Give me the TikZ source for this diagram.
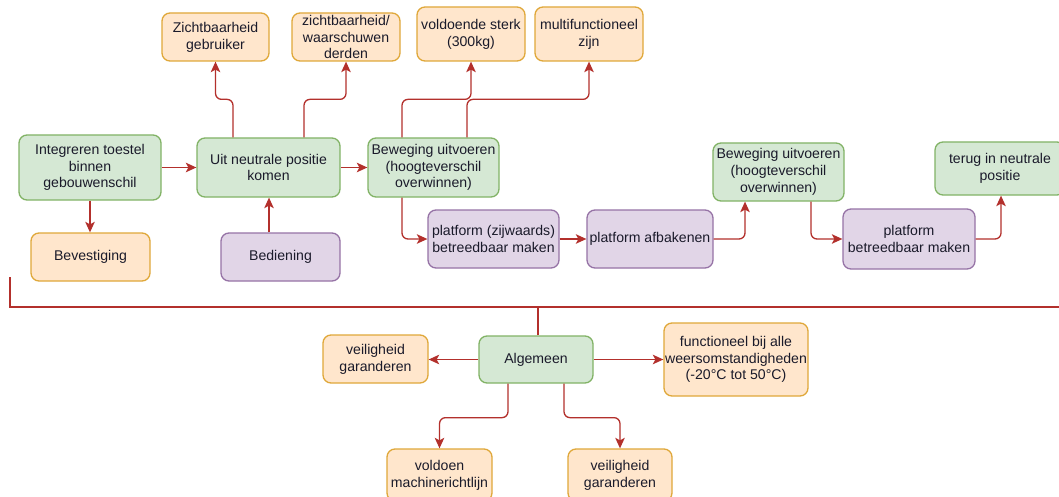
\documentclass[tikz,border=0pt]{standalone}
\usepackage{fontspec}
\setmainfont{Liberation Sans}
\usetikzlibrary{arrows.meta}
\definecolor{gfill}{HTML}{D5E8D4}
\definecolor{gline}{HTML}{82B366}
\definecolor{ofill}{HTML}{FFE6CC}
\definecolor{oline}{HTML}{E0A83A}
\definecolor{pfill}{HTML}{E1D5E7}
\definecolor{pline}{HTML}{9673A6}
\definecolor{arrc}{HTML}{B3302C}
\definecolor{txt}{HTML}{1A1A2A}
\begin{document}
\begin{tikzpicture}[x=1pt,y=-1pt,
  font=\fontsize{14.1}{16.8}\selectfont,
  box/.style={draw, rounded corners=8pt, line width=1.3pt, align=center, inner sep=0pt, text=txt},
  gbox/.style={box, fill=gfill, draw=gline},
  obox/.style={box, fill=ofill, draw=oline},
  pbox/.style={box, fill=pfill, draw=pline},
  conn/.style={draw=arrc, line width=1.3pt, rounded corners=6pt,
    -{Stealth[length=10.5pt,width=9.5pt,inset=2.5pt]}},
  bus/.style={draw=arrc, line width=2.4pt}]
\useasboundingbox (0,0) rectangle (1059,497);
\fill[white] (0,0) rectangle (1059,497);
\clip (0,0) rectangle (1059,497);

% top row nodes
\node[gbox, minimum width=142pt, minimum height=65pt] (int) at (90,167.5) {Integreren toestel\\binnen\\gebouwenschil};
\node[obox, minimum width=119pt, minimum height=48pt] (bev) at (90.5,257) {Bevestiging};
\node[gbox, minimum width=143pt, minimum height=59pt] (uit) at (268.5,167.5) {Uit neutrale positie\\komen};
\node[pbox, minimum width=119pt, minimum height=48pt] (bed) at (280.5,257) {Bediening};
\node[obox, minimum width=107pt, minimum height=48pt] (zg) at (215.5,37) {Zichtbaarheid\\gebruiker};
\node[obox, minimum width=108pt, minimum height=48pt] (zd) at (346,37) {zichtbaarheid/\\waarschuwen\\derden};
\node[obox, minimum width=108pt, minimum height=54pt] (vs) at (471,34) {voldoende sterk\\(300kg)};
\node[obox, minimum width=108pt, minimum height=54pt] (mf) at (589,34) {multifunctioneel\\zijn};
\node[gbox, minimum width=131pt, minimum height=59pt] (bew1) at (433.5,167.5) {Beweging uitvoeren\\(hoogteverschil\\overwinnen)};
\node[pbox, minimum width=131pt, minimum height=58pt] (pz) at (493.5,239) {platform (zijwaards)\\betreedbaar maken};
\node[pbox, minimum width=126pt, minimum height=58pt] (pa) at (650,239) {platform afbakenen};
\node[gbox, minimum width=131pt, minimum height=58pt] (bew2) at (778.5,172) {Beweging uitvoeren\\(hoogteverschil\\overwinnen)};
\node[pbox, minimum width=132pt, minimum height=60pt] (pb) at (909,239) {platform\\betreedbaar maken};
\node[gbox, minimum width=130pt, minimum height=53pt] (ter) at (1000,168.5) {terug in neutrale\\positie};

% bottom nodes
\node[gbox, minimum width=114pt, minimum height=47pt] (alg) at (536,359.5) {Algemeen};
\node[obox, minimum width=105pt, minimum height=48pt] (vl) at (375.5,359) {veiligheid\\garanderen};
\node[obox, minimum width=144pt, minimum height=73pt] (fn) at (736,359.5) {functioneel bij alle\\weersomstandigheden\\(-20°C tot 50°C)};
\node[obox, minimum width=105pt, minimum height=52pt] (vm) at (439.5,475) {voldoen\\machinerichtlijn};
\node[obox, minimum width=104pt, minimum height=52pt] (vb) at (620,475) {veiligheid\\garanderen};

% bus line
\coordinate (busstart) at (10,277);
\coordinate (busend) at (1070,307);
\draw[bus] (busstart) |- (busend);
\draw[bus] ([xshift=2pt]alg.north) -- ([xshift=2pt]alg.north |- busend);

% connectors
\draw[conn] (int) -- (uit);
\draw[conn] (int.south) -- (int.south |- bev.north);
\draw[conn] ([xshift=-11.5pt]bed.north) -- ([xshift=-11.5pt]bed.north |- uit.south);
\draw[conn] ([xshift=-35.5pt]uit.north) -- ++(0,-38) -| (zg.south);
\draw[conn] ([xshift=35.5pt]uit.north) -- ++(0,-38) -| (zd.south);
\draw[conn] (uit) -- (bew1);
\draw[conn] ([xshift=-31.5pt]bew1.north) -- ++(0,-38) -| (vs.south);
\draw[conn] ([xshift=33.5pt]bew1.north) -- ++(0,-38) -| (mf.south);
\draw[conn] ([xshift=-31.5pt]bew1.south) |- (pz.west);
\draw[conn] (pz) -- (pa);
\draw[conn] (pa.east) -| ([xshift=-33.5pt]bew2.south);
\draw[conn] ([xshift=32.5pt]bew2.south) |- (pb.west);
\draw[conn] (pb.east) -| ([xshift=1pt]ter.south);
\draw[conn] (alg.west) -- (alg.west -| vl.east);
\draw[conn] (alg.east) -- (alg.east -| fn.west);
\draw[conn] ([xshift=-28pt]alg.south) -- ++(0,34) -| (vm.north);
\draw[conn] ([xshift=28pt]alg.south) -- ++(0,34) -| (vb.north);
\end{tikzpicture}
\end{document}
